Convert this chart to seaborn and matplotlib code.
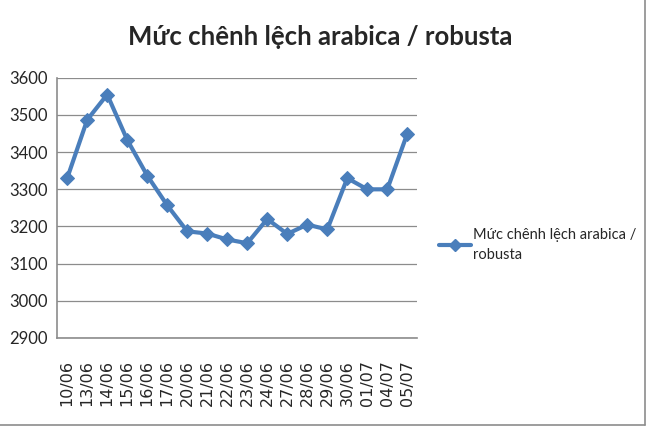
import pandas as pd
import matplotlib.pyplot as plt
import seaborn as sns
from matplotlib.lines import Line2D

# Dữ liệu
dates = ["10/06", "13/06", "14/06", "15/06", "16/06", "17/06", "20/06", "21/06",
         "22/06", "23/06", "24/06", "27/06", "28/06", "29/06", "30/06", "01/07",
         "04/07", "05/07"]
spread = [3330, 3487, 3555, 3433, 3337, 3257, 3187, 3181, 3165, 3155, 3220,
          3180, 3205, 3192, 3330, 3300, 3300, 3450]
y_ticks = [2900, 3000, 3100, 3200, 3300, 3400, 3500, 3600]
label = "Mức chênh lệch arabica / robusta"

df = pd.DataFrame({"pos": range(len(dates)), "date": dates, "value": spread})

sns.set_style("white")
plt.rcParams['font.family'] = ['Lato', 'DejaVu Sans']

fig = plt.figure(figsize=(6.5, 4.3), dpi=100)
ax = fig.add_axes([0.088, 0.214, 0.554, 0.605])

color = "#4a7ebb"
sns.lineplot(data=df, x="pos", y="value", ax=ax, color=color, linewidth=3,
             marker="D", markersize=7.5, markeredgecolor=color, legend=False)

ax.set_xlim(-0.5, len(dates) - 0.5)
ax.set_ylim(2900, 3600)
ax.set_yticks(y_ticks)
ax.set_yticklabels([str(v) for v in y_ticks], fontsize=12)
ax.yaxis.grid(True, color="#8c8c8c", linewidth=0.9)
ax.set_axisbelow(True)

ax.set_xticks([i - 0.5 for i in range(len(dates) + 1)])
ax.set_xticklabels([])
ax.set_xticks(range(len(dates)), minor=True)
ax.set_xticklabels(dates, minor=True, rotation=90, fontsize=11.5,
                   family="DejaVu Sans")
ax.tick_params(axis="x", which="major", length=5, color="#8c8c8c", direction="out")
ax.tick_params(axis="x", which="minor", length=0, pad=16)
ax.tick_params(axis="y", length=5, color="#8c8c8c", direction="out", pad=2)

for s in ["top", "right"]:
    ax.spines[s].set_visible(False)
for s in ["left", "bottom"]:
    ax.spines[s].set_color("#8c8c8c")
    ax.spines[s].set_linewidth(1.2)

ax.set_xlabel("")
ax.set_ylabel("")

fig.text(0.492, 0.915, label, ha="center", va="center",
         fontsize=18.5, fontweight="bold")

handle = Line2D([], [], color=color, linewidth=3, marker="D", markersize=6)
fig.legend([handle], ["Mức chênh lệch arabica /\nrobusta"], loc="center left",
           bbox_to_anchor=(0.655, 0.43), frameon=False,
           handlelength=2.2, handletextpad=0.15, prop={"size": 10.5})
for t in fig.legends[0].get_texts():
    t.set_linespacing(1.6)

# khung biểu đồ
fig.add_artist(Line2D([0.992, 0.992], [0.012, 1.0], color="#8c8c8c", linewidth=1.2))
fig.add_artist(Line2D([0.0, 0.992], [0.012, 0.012], color="#8c8c8c", linewidth=1.2))

fig.savefig("out.png", dpi=100)
